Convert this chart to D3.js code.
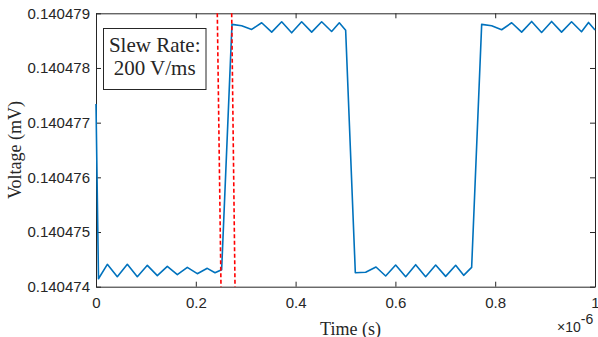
<!DOCTYPE html>
<html>
<head>
<meta charset="utf-8">
<script src="https://cdn.jsdelivr.net/npm/d3@7"></script>
<style>
    body { margin: 0; background: #fff; }
    .axis path, .axis line { stroke: #262626; stroke-width: 1; }
    .axis text { font-family: "Liberation Sans", Arial, sans-serif; font-size: 15px; fill: #262626; }
    .serif { font-family: "Liberation Serif", "Times New Roman", serif; fill: #262626; }
</style>
</head>
<body>
<div id="chart"></div>
<script>
// time in microseconds (plotted as seconds with the x10^-6 multiplier)
const timeUs = [0, 0.005, 0.0227, 0.0427, 0.0628, 0.0828, 0.1029, 0.1229, 0.1429, 0.163, 0.183, 0.203, 0.223, 0.2385, 0.2518,
    0.2725, 0.2919, 0.312, 0.332, 0.3521, 0.3721, 0.3921, 0.4121, 0.4322, 0.4522, 0.4722, 0.4876, 0.5003,
    0.5197, 0.5404, 0.5611, 0.5805, 0.6005, 0.6206, 0.6406, 0.6606, 0.6807, 0.7007, 0.7208, 0.7368, 0.7528,
    0.7729, 0.7929, 0.8129, 0.833, 0.853, 0.873, 0.893, 0.913, 0.933, 0.953, 0.973, 0.987, 1.0];

// voltage (mV)
const voltage = [0.14047734, 0.140474145, 0.140474409, 0.140474183, 0.140474409, 0.140474183, 0.140474391, 0.140474202, 0.140474372, 0.14047422, 0.140474354, 0.140474238, 0.140474336, 0.140474256, 0.140474311,
    0.140478797, 0.140478772, 0.140478705, 0.140478827, 0.140478656, 0.140478845, 0.140478643, 0.140478845, 0.140478656, 0.140478845, 0.140478668, 0.140478827, 0.14047869,
    0.140474256, 0.140474263, 0.14047436, 0.140474196, 0.140474397, 0.140474183, 0.140474403, 0.140474183, 0.140474397, 0.140474189, 0.140474391, 0.140474208, 0.140474354,
    0.140478797, 0.140478772, 0.140478699, 0.140478827, 0.140478656, 0.140478851, 0.14047865, 0.140478851, 0.140478656, 0.140478845, 0.140478662, 0.140478833, 0.140478693];

// slew-rate marker lines (us): where each crosses the top and bottom of the axes
const markerTopUs = [0.2431, 0.2719];
const markerBottomUs = [0.2505, 0.2786];

const xTicks = [0, 0.2, 0.4, 0.6, 0.8, 1];
const yTicks = [0.140474, 0.140475, 0.140476, 0.140477, 0.140478, 0.140479];

const width = 598, height = 337;
const margin = { top: 13.3, right: 3, bottom: 50.3, left: 96 };
const innerW = width - margin.left - margin.right;
const innerH = height - margin.top - margin.bottom;

const svg = d3.select('#chart').append('svg')
    .attr('width', width)
    .attr('height', height);

const g = svg.append('g')
    .attr('transform', `translate(${margin.left}, ${margin.top})`);

const x = d3.scaleLinear().domain([0, 1e-6]).range([0, innerW]);
const y = d3.scaleLinear().domain([0.140474, 0.140479]).range([innerH, 0]);

const data = timeUs.map((t, i) => ({ t: t * 1e-6, v: voltage[i] }));

const fmtX = d => d3.format('~g')(+(d / 1e-6).toFixed(6));

g.append('g')
    .attr('class', 'axis')
    .attr('transform', `translate(0, ${innerH})`)
    .call(d3.axisBottom(x).tickValues(xTicks.map(d => d * 1e-6)).tickFormat(fmtX)
        .tickSizeInner(-5).tickSizeOuter(0).tickPadding(10.5));

g.append('g')
    .attr('class', 'axis')
    .call(d3.axisTop(x).tickValues(xTicks.map(d => d * 1e-6)).tickFormat('')
        .tickSizeInner(-5).tickSizeOuter(0));

g.append('g')
    .attr('class', 'axis')
    .call(d3.axisLeft(y).tickValues(yTicks).tickFormat(d3.format('.6f'))
        .tickSizeInner(-5).tickSizeOuter(0).tickPadding(6));

g.append('g')
    .attr('class', 'axis')
    .attr('transform', `translate(${innerW}, 0)`)
    .call(d3.axisRight(y).tickValues(yTicks).tickFormat('')
        .tickSizeInner(-5).tickSizeOuter(0));

const line = d3.line()
    .x(d => x(d.t))
    .y(d => y(d.v));

g.append('path')
    .datum(data)
    .attr('fill', 'none')
    .attr('stroke', '#0072BD')
    .attr('stroke-width', 1.6)
    .attr('stroke-linejoin', 'round')
    .attr('d', line);

g.selectAll('.marker')
    .data(markerTopUs.map((t, i) => ({ t0: t * 1e-6, t1: markerBottomUs[i] * 1e-6 })))
    .enter()
    .append('line')
    .attr('class', 'marker')
    .attr('x1', d => x(d.t0))
    .attr('y1', y(y.domain()[1]))
    .attr('x2', d => x(d.t1))
    .attr('y2', y(y.domain()[0]))
    .attr('stroke', '#FF0000')
    .attr('stroke-width', 1.6)
    .attr('stroke-dasharray', '4,2.5');

// annotation box
const box = svg.append('g').attr('transform', 'translate(103.5, 28.5)');
box.append('rect')
    .attr('width', 102.5)
    .attr('height', 61)
    .attr('fill', '#fff')
    .attr('stroke', '#262626')
    .attr('stroke-width', 1);
box.append('text')
    .attr('class', 'serif')
    .attr('x', 51.2).attr('y', 23.2)
    .attr('text-anchor', 'middle')
    .style('font-size', '21px')
    .text('Slew Rate:');
box.append('text')
    .attr('class', 'serif')
    .attr('x', 51.2).attr('y', 46)
    .attr('text-anchor', 'middle')
    .style('font-size', '21px')
    .text('200 V/ms');

// axis titles
svg.append('text')
    .attr('class', 'serif')
    .attr('x', 350.5)
    .attr('y', 334.5)
    .attr('text-anchor', 'middle')
    .style('font-size', '18px')
    .text('Time (s)');

svg.append('text')
    .attr('class', 'serif')
    .attr('transform', `translate(20.5, ${margin.top + innerH / 2}) rotate(-90)`)
    .attr('text-anchor', 'middle')
    .style('font-size', '18px')
    .text('Voltage (mV)');

const mult = svg.append('text')
    .attr('x', 557)
    .attr('y', 332)
    .style('font-family', '"Liberation Sans", Arial, sans-serif')
    .style('font-size', '14px')
    .style('fill', '#262626');
mult.append('tspan').text('\u00d710');
mult.append('tspan').attr('dy', -8).text('-6');
</script>
</body>
</html>
